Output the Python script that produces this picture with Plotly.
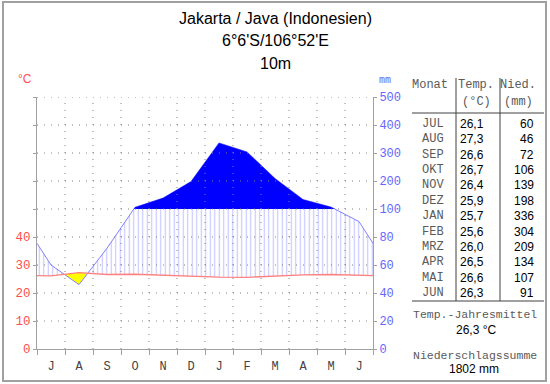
import numpy as np
import plotly.graph_objects as go

# ---------------- data ----------------
months_axis = ["J", "A", "S", "O", "N", "D", "J", "F", "M", "A", "M", "J"]
months_table = ["JUL", "AUG", "SEP", "OKT", "NOV", "DEZ", "JAN", "FEB", "MRZ", "APR", "MAI", "JUN"]
temps = [26.1, 27.3, 26.6, 26.7, 26.4, 25.9, 25.7, 25.6, 26.0, 26.5, 26.6, 26.3]
precip = [60, 46, 72, 106, 139, 198, 336, 304, 209, 134, 107, 91]
left_ticks = [0, 10, 20, 30, 40]
right_tick_labels = ["0", "20", "40", "60", "80", "100", "200", "300", "400", "500"]
title_lines = ["Jakarta / Java (Indonesien)", "6°6'S/106°52'E", "10m"]

# ---------------- layout geometry ----------------
W, H = 550, 384
L, R, T, B = 37, 373, 97, 349


def px(x):
    return (x - L) / (R - L)


def py(y):
    return (B - y) / (B - T)


def scale_p(p):
    p = np.asarray(p, dtype=float)
    return np.where(p <= 100, p / 2.0, 50 + (p - 100) / 10.0)


t = np.array(temps)
ps = scale_p(precip)
# wrap-around values at the diagram edges
t_edge = (t[0] + t[-1]) / 2
p_edge = (ps[0] + ps[-1]) / 2
xs = np.concatenate([[0.0], np.arange(12) + 0.5, [12.0]])
T_line = np.concatenate([[t_edge], t, [t_edge]])
P_line = np.concatenate([[p_edge], ps, [p_edge]])

# breakpoints: data x plus crossings of P with T and with 50
bx = list(xs)
for i in range(len(xs) - 1):
    for d0, d1 in [(P_line[i] - T_line[i], P_line[i + 1] - T_line[i + 1]),
                   (P_line[i] - 50, P_line[i + 1] - 50)]:
        if d0 * d1 < 0:
            f = d0 / (d0 - d1)
            bx.append(xs[i] + f * (xs[i + 1] - xs[i]))
bx = np.array(sorted(bx))
Tb = np.interp(bx, xs, T_line)
Pb = np.interp(bx, xs, P_line)

fig = go.Figure()
none_line = dict(width=0)

# humid (hatched)
fig.add_trace(go.Scatter(x=bx, y=Tb, mode="lines", line=none_line, showlegend=False, hoverinfo="skip"))
fig.add_trace(go.Scatter(x=bx, y=np.maximum(np.minimum(Pb, 50), Tb), mode="lines", line=none_line,
                         fill="tonexty", fillcolor="rgba(0,0,0,0)",
                         fillpattern=dict(shape="|", size=4.5, solidity=0.25, fgcolor="#8c8cff", bgcolor="white"),
                         showlegend=False, hoverinfo="skip"))
# arid (yellow)
fig.add_trace(go.Scatter(x=bx, y=np.minimum(Pb, Tb), mode="lines", line=none_line, showlegend=False, hoverinfo="skip"))
fig.add_trace(go.Scatter(x=bx, y=Tb, mode="lines", line=none_line, fill="tonexty", fillcolor="#ffff00",
                         showlegend=False, hoverinfo="skip"))
# precipitation line
fig.add_trace(go.Scatter(x=xs, y=P_line, mode="lines", line=dict(color="#8080ff", width=1),
                         showlegend=False, hoverinfo="skip"))
# perhumid (> 100 mm)
fig.add_trace(go.Scatter(x=bx, y=np.full_like(bx, 50.0), mode="lines", line=none_line, showlegend=False, hoverinfo="skip"))
fig.add_trace(go.Scatter(x=bx, y=np.maximum(Pb, 50), mode="lines", line=none_line, fill="tonexty",
                         fillcolor="#0000ff", showlegend=False, hoverinfo="skip"))
# temperature line
fig.add_trace(go.Scatter(x=xs, y=T_line, mode="lines", line=dict(color="#ff8080", width=1.3),
                         showlegend=False, hoverinfo="skip"))
# dummy trace for right axis
fig.add_trace(go.Scatter(x=[0], y=[0], yaxis="y2", mode="markers", marker=dict(opacity=0),
                         showlegend=False, hoverinfo="skip"))

shapes = []
grid = dict(color="#808080", width=1, dash="1px,6px")
for k in range(1, 10):
    shapes.append(dict(type="line", xref="x", yref="y", x0=0, x1=12, y0=10 * k, y1=10 * k, line=grid, layer="above"))
for k in range(1, 12):
    shapes.append(dict(type="line", xref="x", yref="y", x0=k, x1=k, y0=0, y1=90, line=grid, layer="above"))

# outer frame
shapes.append(dict(type="rect", xref="paper", yref="paper", x0=px(3), x1=px(546), y0=py(381), y1=py(2),
                   line=dict(color="#a0a0a0", width=2), layer="above"))
# table lines
tl = dict(color="#404040", width=1)
for xv in (456, 500):
    shapes.append(dict(type="line", xref="paper", yref="paper", x0=px(xv), x1=px(xv), y0=py(78), y1=py(301), line=tl))
for yv in (113, 301):
    shapes.append(dict(type="line", xref="paper", yref="paper", x0=px(412), x1=px(544), y0=py(yv), y1=py(yv), line=tl))

mono = "Liberation Mono, Courier New, monospace"
sans = "Liberation Sans, Arial, sans-serif"
grey_txt = "#5a5a5a"
ann = []


def text(x, y, s, family, size, color, xanchor="center"):
    ann.append(dict(x=px(x), y=py(y), xref="paper", yref="paper", text=s, showarrow=False,
                    xanchor=xanchor, yanchor="middle", font=dict(family=family, size=size, color=color)))


for s, yv in zip(title_lines, (18, 41, 63)):
    text(275, yv, s, sans, 16, "black")
text(25, 79, "°C", sans, 12, "#ff5050")
text(385, 80, "mm", mono, 10, "#6666ff")

text(430, 85, "Monat", mono, 12, grey_txt)
text(476, 85, "Temp.", mono, 12, grey_txt)
text(476, 102, "(°C)", mono, 12, grey_txt)
text(518, 85, "Nied.", mono, 12, grey_txt)
text(518, 102, "(mm)", mono, 12, grey_txt)
for i, (m, tv, pv) in enumerate(zip(months_table, temps, precip)):
    yv = 124 + 15.36 * i
    text(446, yv, m, mono, 12, grey_txt, "right")
    text(486, yv, f"{tv:.1f}".replace(".", ","), sans, 12, "black", "right")
    text(536, yv, str(pv), sans, 12, "black", "right")

mean_t = sum(temps) / len(temps)
text(475, 314, "Temp.-Jahresmittel", mono, 11.5, grey_txt)
text(476, 330, f"{mean_t:.1f}".replace(".", ",") + " °C", sans, 12, "black")
text(475, 355, "Niederschlagssumme", mono, 11.5, grey_txt)
text(474, 369, f"{sum(precip)} mm", sans, 12, "black")

fig.update_layout(
    width=W, height=H,
    margin=dict(l=L, r=W - R, t=T, b=H - B, pad=0, autoexpand=False),
    paper_bgcolor="white", plot_bgcolor="white",
    shapes=shapes, annotations=ann,
    xaxis=dict(range=[0, 12], tickvals=list(np.arange(12) + 0.5), ticktext=months_axis,
               ticks="", showgrid=False, zeroline=False, showline=True, linecolor="#a0a0a0",
               tickfont=dict(family=mono, size=12, color="#444444"), ticklabelstandoff=6,
               minor=dict(tickmode="linear", tick0=0, dtick=1, ticks="outside", ticklen=5,
                          tickcolor="#a0a0a0", showgrid=False),
               automargin=False, fixedrange=True),
    yaxis=dict(range=[0, 90], tickvals=[10 * k for k in range(10)],
               ticktext=[str(v) for v in left_ticks] + [""] * 5,
               ticks="outside", ticklen=3, tickcolor="#a0a0a0", showgrid=False, zeroline=False,
               showline=True, linecolor="#a0a0a0", automargin=False,
               tickfont=dict(family=mono, size=12.5, color="#ff5050"), fixedrange=True),
    yaxis2=dict(range=[0, 90], overlaying="y", side="right", tickvals=[10 * k for k in range(10)],
                ticktext=right_tick_labels, ticks="outside", ticklen=3, tickcolor="#a0a0a0",
                showgrid=False, zeroline=False, showline=True, linecolor="#a0a0a0", automargin=False,
                tickfont=dict(family=mono, size=12, color="#6666ff"), fixedrange=True),
)

fig.write_html("out.html", config={"displayModeBar": False},
               post_script="document.body.style.margin='0';document.body.style.overflow='hidden';")
